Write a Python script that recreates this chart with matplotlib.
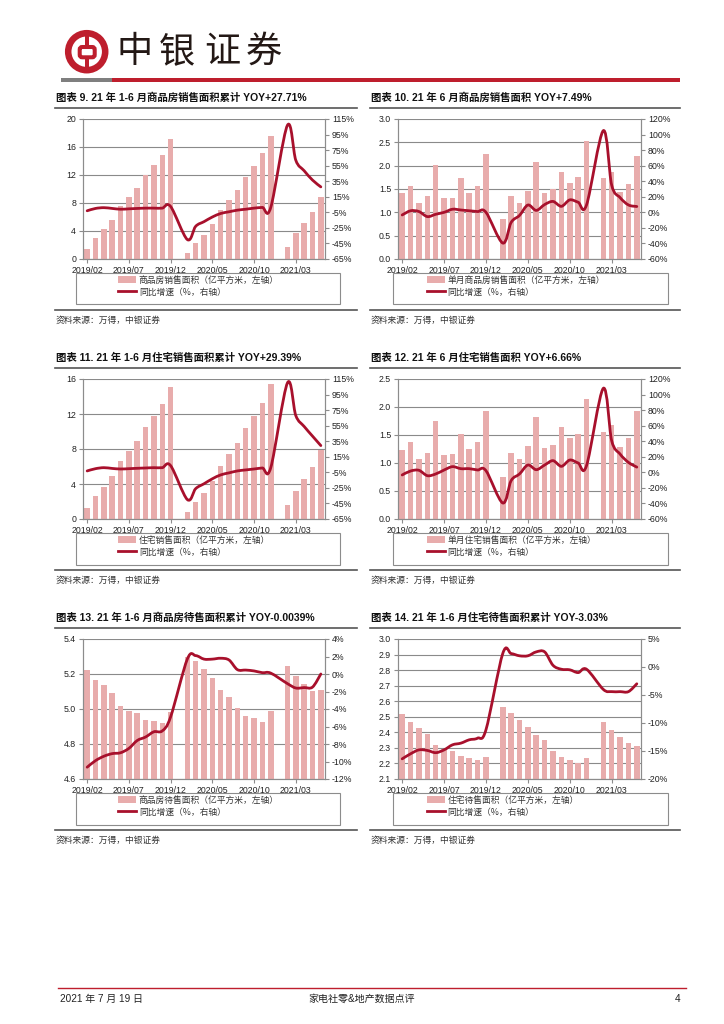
import numpy as np
import matplotlib
matplotlib.use('Agg')
import matplotlib.pyplot as plt
from matplotlib.path import Path
from matplotlib.patches import PathPatch, Rectangle, Circle, FancyBboxPatch, Patch
from matplotlib.lines import Line2D
from matplotlib.legend import Legend

plt.rcParams['font.family'] = ['Liberation Sans Narrow', 'Liberation Sans', 'Noto Sans CJK SC', 'DejaVu Sans']

nan = np.nan

# ---- data (2019/02 .. 2021/06, Jan values merged into Feb -> nan) ----
months = ['2019/02', '2019/03', '2019/04', '2019/05', '2019/06', '2019/07', '2019/08',
          '2019/09', '2019/10', '2019/11', '2019/12', '2020/01', '2020/02', '2020/03',
          '2020/04', '2020/05', '2020/06', '2020/07', '2020/08', '2020/09', '2020/10',
          '2020/11', '2020/12', '2021/01', '2021/02', '2021/03', '2021/04', '2021/05',
          '2021/06']
tick_idx = [0, 5, 10, 15, 20, 25]

sales_cum = [1.45, 3.05, 4.3, 5.6, 7.6, 8.9, 10.2, 12.0, 13.4, 14.9, 17.2, nan,
             0.85, 2.25, 3.45, 4.95, 7.0, 8.45, 9.85, 11.7, 13.35, 15.1, 17.6, nan,
             1.75, 3.65, 5.1, 6.7, 8.9]
sales_cum_yoy = [-3.0, 0.0, 1.0, 0.0, -1.0, -0.5, 0.0, 0.4, 0.4, 0.4, 2.5, nan,
                 -40.0, -23.0, -17.0, -11.0, -6.5, -4.3, -2.2, -1.0, 0.4, 1.3, 1.3, nan,
                 107.0, 62.0, 48.5, 36.5, 27.7]

sales_mon = [1.41, 1.56, 1.21, 1.34, 2.02, 1.31, 1.31, 1.73, 1.41, 1.56, 2.25, nan,
             0.85, 1.35, 1.20, 1.46, 2.07, 1.42, 1.49, 1.86, 1.62, 1.75, 2.52, nan,
             1.74, 1.86, 1.43, 1.61, 2.21]
sales_mon_yoy = [-3.4, 2.0, 1.0, -5.5, -2.5, 0.0, 4.0, 3.0, 2.0, 1.0, 0.0, nan,
                 -39.5, -13.0, -4.0, 9.4, 2.5, 10.0, 14.0, 7.7, 16.0, 13.0, 9.5, nan,
                 105.0, 35.0, 19.0, 9.5, 7.5]

res_cum = [1.24, 2.6, 3.69, 4.86, 6.63, 7.8, 8.96, 10.47, 11.75, 13.1, 15.06, nan,
           0.75, 1.92, 3.0, 4.3, 6.1, 7.42, 8.73, 10.4, 11.8, 13.3, 15.47, nan,
           1.58, 3.24, 4.56, 5.99, 7.94]
res_cum_yoy = [-3.2, -0.3, 1.0, 0.0, -0.7, -0.3, 0.2, 0.6, 1.0, 1.0, 3.6, nan,
               -40.0, -26.0, -19.7, -13.3, -8.3, -5.7, -3.2, -1.9, -0.7, 0.6, 1.0, nan,
               110.0, 68.0, 54.0, 41.6, 29.4]

res_mon = [1.24, 1.37, 1.08, 1.18, 1.75, 1.15, 1.16, 1.52, 1.25, 1.37, 1.93, nan,
           0.75, 1.17, 1.07, 1.30, 1.82, 1.27, 1.33, 1.64, 1.45, 1.52, 2.14, nan,
           1.55, 1.67, 1.29, 1.45, 1.93]
res_mon_yoy = [-3.4, 1.7, 2.6, -4.3, -2.1, 3.0, 7.3, 4.7, 4.7, 3.0, 2.1, nan,
               -39.4, -10.7, -2.1, 9.4, 3.4, 9.4, 15.0, 7.7, 15.8, 12.0, 8.6, nan,
               108.0, 40.7, 23.5, 12.8, 6.7]

stock = [5.225, 5.166, 5.139, 5.094, 5.017, 4.989, 4.979, 4.935, 4.933, 4.922, 4.983, nan,
         5.299, 5.274, 5.227, 5.177, 5.108, 5.069, 5.006, 4.958, 4.948, 4.927, 4.986, nan,
         5.244, 5.187, 5.145, 5.103, 5.109]
stock_yoy = [-10.65, -9.9, -9.4, -9.1, -9.0, -8.5, -7.6, -7.2, -6.6, -6.5, -4.9, nan,
             1.7, 2.1, 1.7, 1.7, 1.8, 1.6, 0.5, 0.45, 0.35, 0.15, 0.1, nan,
             -1.1, -1.6, -1.55, -1.5, 0.0]

res_stock = [2.519, 2.466, 2.43, 2.389, 2.32, 2.296, 2.277, 2.247, 2.237, 2.224, 2.243, nan,
             2.566, 2.526, 2.479, 2.434, 2.382, 2.353, 2.283, 2.24, 2.224, 2.205, 2.237, nan,
             2.468, 2.413, 2.37, 2.33, 2.309]
res_stock_yoy = [-16.4, -15.5, -14.8, -14.9, -15.3, -14.8, -13.9, -13.6, -13.0, -12.7, -11.2, nan,
                 2.4, 2.4, 2.0, 2.0, 2.7, 2.7, 0.3, -0.4, -0.5, -1.0, -0.4, nan,
                 -4.0, -4.4, -4.4, -4.4, -3.0]

titles = ['图表 9. 21 年 1-6 月商品房销售面积累计 YOY+27.71%',
          '图表 10. 21 年 6 月商品房销售面积 YOY+7.49%',
          '图表 11. 21 年 1-6 月住宅销售面积累计 YOY+29.39%',
          '图表 12. 21 年 6 月住宅销售面积 YOY+6.66%',
          '图表 13. 21 年 1-6 月商品房待售面积累计 YOY-0.0039%',
          '图表 14. 21 年 1-6 月住宅待售面积累计 YOY-3.03%']
bar_labels = ['商品房销售面积（亿平方米，左轴）',
              '单月商品房销售面积（亿平方米，左轴）',
              '住宅销售面积（亿平方米，左轴）',
              '单月住宅销售面积（亿平方米，左轴）',
              '商品房待售面积（亿平方米，左轴）',
              '住宅待售面积（亿平方米，左轴）']
line_label = '同比增速（%，右轴）'
source = '资料来源：万得，中银证券'

BAR = '#E8ACAC'
LINE = '#A8102C'
RED = '#BE1E2D'
GRID = '#8a8a8a'

W, H = 724, 1024
fig = plt.figure(figsize=(W / 100, H / 100), dpi=100)
fig.patch.set_facecolor('white')

ov = fig.add_axes([0, 0, 1, 1], zorder=-1)
ov.set_xlim(0, W)
ov.set_ylim(H, 0)
ov.axis('off')


def smooth_path(x, y):
    """Excel style smoothed line through the points (Catmull-Rom as Bezier)"""
    P = np.array([(a, b) for a, b in zip(x, y) if not np.isnan(b)])
    n = len(P)
    verts = [P[0]]
    codes = [Path.MOVETO]
    for i in range(n - 1):
        p0 = P[i - 1] if i > 0 else P[i]
        p1, p2 = P[i], P[i + 1]
        p3 = P[i + 2] if i + 2 < n else P[i + 1]
        verts += [p1 + (p2 - p0) / 6.0, p2 - (p3 - p1) / 6.0, p2]
        codes += [Path.CURVE4] * 3
    return Path(verts, codes)


def px_axes(l, t, r, b):
    return fig.add_axes([l / W, 1 - b / H, (r - l) / W, (b - t) / H])


def draw_chart(box, bars, yoy, lylim, lticks, lfmt, rylim, rticks, rfmt):
    ax = px_axes(*box)
    x = np.arange(len(months))
    ax.bar(x, bars, width=0.66, color=BAR, zorder=2)
    ax.set_xlim(-0.5, len(months) - 0.5)
    ax.set_ylim(*lylim)
    ax.set_yticks(lticks)
    ax.set_yticklabels([lfmt.format(v) for v in lticks])
    ax.set_xticks(tick_idx)
    ax.set_xticklabels([months[i] for i in tick_idx])
    ax.yaxis.grid(True, color=GRID, lw=0.8)
    ax.set_axisbelow(True)
    ax2 = ax.twinx()
    ax2.set_ylim(*rylim)
    ax2.set_yticks(rticks)
    ax2.set_yticklabels([rfmt.format(v) for v in rticks])
    ax2.add_patch(PathPatch(smooth_path(x, yoy), fill=False, ec=LINE, lw=2.0,
                            capstyle='round', joinstyle='round'))
    for a in (ax, ax2):
        a.spines['top'].set_visible(False)
        for s in ('left', 'right', 'bottom'):
            a.spines[s].set_color('#8c8c8c')
            a.spines[s].set_linewidth(0.8)
        a.tick_params(labelsize=6.3, colors='#8c8c8c', labelcolor='#222222',
                      length=3, width=0.8, pad=2)
    return ax


def draw_panel(px, row, k, bars, yoy, lylim, lticks, lfmt, rylim, rticks, rfmt):
    top = [0, 260, 520][row]
    if px == 0:
        x0, x1, box = 55, 357, (83, 119 + top, 325, 259 + top)
        lg = (76, 340)
    else:
        x0, x1, box = 370, 680, (398, 119 + top, 641, 259 + top)
        lg = (393, 668)
    ov.text(x0 + 1, 98 + top, titles[k], fontsize=7.5, fontweight='bold',
            va='center', ha='left', color='#111111',
            family=['Liberation Sans', 'Noto Sans CJK SC'])
    ov.plot([x0, x1], [107.5 + top, 107.5 + top], color='#555555', lw=1.2)
    ov.plot([x0, x1], [310 + top, 310 + top], color='#555555', lw=1.2)
    ov.text(x0 + 1, 320 + top, source, fontsize=6.3, va='center', ha='left',
            color='#333333', family=['Noto Sans CJK SC'])
    draw_chart(box, bars, yoy, lylim, lticks, lfmt, rylim, rticks, rfmt)
    ov.add_patch(Rectangle((lg[0], 273 + top), lg[1] - lg[0], 31 + (1 if row else 0),
                           fill=False, ec='#8c8c8c', lw=0.8))
    handles = [Patch(facecolor=BAR, edgecolor='none'),
               Line2D([], [], color=LINE, lw=2.0)]
    leg = Legend(ov, handles, [bar_labels[k], line_label], loc='upper left',
                 bbox_to_anchor=(lg[0] + 40 if px == 0 else lg[0] + 32, 274 + top),
                 bbox_transform=ov.transData, frameon=False,
                 prop={'family': 'Noto Sans CJK SC', 'size': 6.3},
                 handlelength=2.1, handleheight=0.9, handletextpad=0.3,
                 labelspacing=0.3, borderpad=0.2, borderaxespad=0)
    for t in leg.get_texts():
        t.set_color('#333333')
    ov.add_artist(leg)


# ---- header ----
ov.add_patch(Circle((86.7, 51.7), 18.5, fill=False, ec=RED, lw=4.7))
ov.add_patch(FancyBboxPatch((79.7, 47), 15, 10.3,
                            boxstyle='round,pad=0,rounding_size=2.5',
                            fill=False, ec=RED, lw=2.9))
ov.add_patch(Rectangle((84.5, 34), 4.5, 12, color=RED, lw=0))
ov.add_patch(Rectangle((84.5, 58), 4.5, 11, color=RED, lw=0))
for ch, cx in zip('中银证券', [135, 177, 222, 264]):
    ov.text(cx, 52, ch, fontsize=26, ha='center', va='center', color='#231815',
            family=['Noto Sans CJK SC'])
ov.add_patch(Rectangle((61, 77.5), 51, 4.5, color='#7f7f7f', lw=0))
ov.add_patch(Rectangle((112, 77.5), 568, 4.5, color=RED, lw=0))

# ---- panels ----
draw_panel(0, 0, 0, sales_cum, sales_cum_yoy, (0, 20), [0, 4, 8, 12, 16, 20], '{:.0f}',
           (-65, 115), list(range(-65, 116, 20)), '{:.0f}%')
draw_panel(1, 0, 1, sales_mon, sales_mon_yoy, (0, 3.0), [0, 0.5, 1.0, 1.5, 2.0, 2.5, 3.0], '{:.1f}',
           (-60, 120), list(range(-60, 121, 20)), '{:.0f}%')
draw_panel(0, 1, 2, res_cum, res_cum_yoy, (0, 16), [0, 4, 8, 12, 16], '{:.0f}',
           (-65, 115), list(range(-65, 116, 20)), '{:.0f}%')
draw_panel(1, 1, 3, res_mon, res_mon_yoy, (0, 2.5), [0, 0.5, 1.0, 1.5, 2.0, 2.5], '{:.1f}',
           (-60, 120), list(range(-60, 121, 20)), '{:.0f}%')
draw_panel(0, 2, 4, stock, stock_yoy, (4.6, 5.4), [4.6, 4.8, 5.0, 5.2, 5.4], '{:.1f}',
           (-12, 4), list(range(-12, 5, 2)), '{:.0f}%')
draw_panel(1, 2, 5, res_stock, res_stock_yoy, (2.1, 3.0),
           [2.1, 2.2, 2.3, 2.4, 2.5, 2.6, 2.7, 2.8, 2.9, 3.0], '{:.1f}',
           (-20, 5), list(range(-20, 6, 5)), '{:.0f}%')

# ---- footer ----
ov.plot([58, 686], [988, 988], color=RED, lw=1.0)
ov.text(60, 999, '2021 年 7 月 19 日', fontsize=7.2, va='center', ha='left', color='#222222')
ov.text(362, 999, '家电社零&地产数据点评', fontsize=7.2, va='center', ha='center', color='#222222')
ov.text(680, 999, '4', fontsize=7.2, va='center', ha='right', color='#222222')

fig.savefig('out.png', dpi=100, facecolor='white')
